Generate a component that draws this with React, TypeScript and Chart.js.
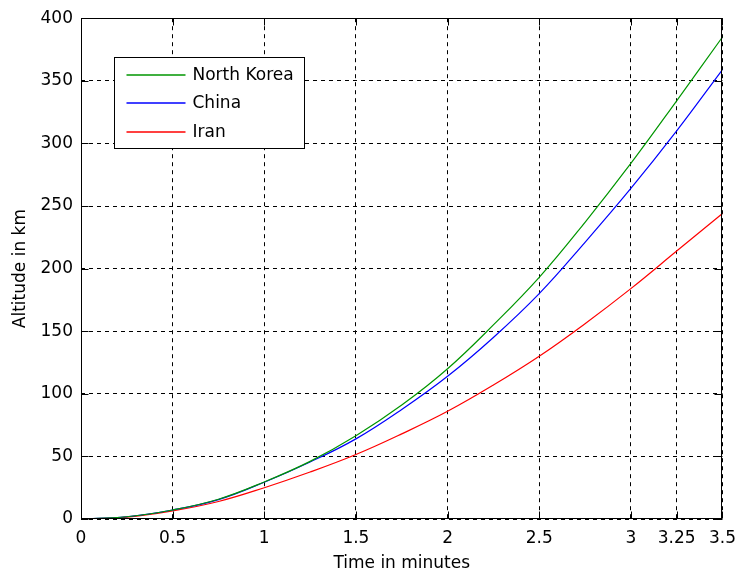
import React, { useEffect, useRef } from "react";
import { Chart, registerables } from "chart.js";

Chart.register(...registerables);

const timeMin = [0, 0.25, 0.5, 0.75, 1, 1.25, 1.5, 1.75, 2, 2.25, 2.5, 2.75, 3, 3.25, 3.5];
const northKorea = [0, 1.8, 7.2, 15.8, 29.6, 46, 66.5, 91, 120, 155, 193, 237, 284, 334, 385];
const china = [0, 1.8, 7.2, 15.5, 29.4, 45.5, 64, 87.5, 114, 145, 180, 221, 264, 310, 359];
const iran = [0, 1.5, 6.5, 14, 25, 37.5, 51.5, 68, 86, 107, 130, 156, 184, 214, 244];

const seriesNames = ["North Korea", "China", "Iran"];
const seriesColors = ["rgb(0,150,0)", "rgb(0,0,255)", "rgb(255,0,0)"];

const xTickValues = [0, 0.5, 1, 1.5, 2, 2.5, 3, 3.25, 3.5];
const yMin = 0;
const yMax = 400;
const yStep = 50;

const FONT = "'DejaVu Sans', sans-serif";

const framePlugin = {
  id: "matlabFrame",
  afterDraw(chart: any) {
    const { ctx, chartArea, scales } = chart;
    const { left, right, top, bottom } = chartArea;
    const xs = scales.x;
    const ys = scales.y;
    ctx.save();
    ctx.strokeStyle = "#000";
    ctx.lineWidth = 1;
    ctx.setLineDash([]);
    const L = Math.round(left) + 0.5;
    const R = Math.round(right) - 0.5;
    const T = Math.round(top) + 0.5;
    const B = Math.round(bottom) - 0.5;
    ctx.strokeRect(L, T, R - L, B - T);
    const tl = 7;
    ctx.beginPath();
    xs.ticks.forEach((t: any) => {
      const px = Math.round(xs.getPixelForValue(t.value)) + 0.5;
      ctx.moveTo(px, B);
      ctx.lineTo(px, B - tl);
      ctx.moveTo(px, T);
      ctx.lineTo(px, T + tl);
    });
    ys.ticks.forEach((t: any) => {
      const py = Math.round(ys.getPixelForValue(t.value)) + 0.5;
      ctx.moveTo(L, py);
      ctx.lineTo(L + tl, py);
      ctx.moveTo(R, py);
      ctx.lineTo(R - tl, py);
    });
    ctx.stroke();

    // legend box
    const bx = Math.round(left) + 33 + 0.5;
    const by = Math.round(top) + 39 + 0.5;
    const bw = 190;
    const bh = 91;
    ctx.fillStyle = "#fff";
    ctx.fillRect(bx, by, bw, bh);
    ctx.strokeStyle = "#000";
    ctx.lineWidth = 1;
    ctx.strokeRect(bx, by, bw, bh);
    ctx.font = `17px ${FONT}`;
    ctx.textAlign = "left";
    ctx.textBaseline = "middle";
    chart.data.datasets.forEach((ds: any, i: number) => {
      const ry = Math.round(by + 17 + i * 28.5);
      ctx.strokeStyle = ds.borderColor;
      ctx.lineWidth = 1.4;
      ctx.beginPath();
      ctx.moveTo(bx + 12, ry);
      ctx.lineTo(bx + 71, ry);
      ctx.stroke();
      ctx.fillStyle = "#000";
      ctx.fillText(ds.label, bx + 78, ry + 1);
    });
    ctx.restore();
  },
};

const bgPlugin = {
  id: "whiteBg",
  beforeDraw(chart: any) {
    const { ctx, width, height } = chart;
    ctx.save();
    ctx.fillStyle = "#fff";
    ctx.fillRect(0, 0, width, height);
    ctx.restore();
  },
};

export default function App() {
  const ref = useRef<HTMLCanvasElement | null>(null);
  useEffect(() => {
    if (!ref.current) return;
    const allSeries = [northKorea, china, iran];
    const chart = new Chart(ref.current, {
      type: "line",
      data: {
        datasets: allSeries.map((vals, i) => ({
          label: seriesNames[i],
          data: timeMin.map((t, j) => ({ x: t, y: vals[j] })),
          borderColor: seriesColors[i],
          backgroundColor: seriesColors[i],
          borderWidth: 1.2,
          pointRadius: 0,
          tension: 0.4,
          fill: false,
        })),
      },
      options: {
        responsive: false,
        animation: false,
        layout: { padding: { left: 0, top: 14, right: 13, bottom: 0 } },
        plugins: {
          legend: { display: false },
          tooltip: { enabled: false },
        },
        scales: {
          x: {
            type: "linear",
            min: 0,
            max: 3.5,
            afterBuildTicks: (scale: any) => {
              scale.ticks = xTickValues.map((v) => ({ value: v }));
            },
            afterFit: (scale: any) => {
              scale.height = 56;
            },
            ticks: {
              autoSkip: false,
              maxRotation: 0,
              padding: 9,
              color: "#000",
              font: { family: FONT, size: 17 },
              callback: (v: any) => String(v),
            },
            grid: {
              color: "#000",
              lineWidth: 1,
              drawTicks: false,
            },
            border: { display: false, dash: [4, 4] },
            title: {
              display: true,
              text: "Time in minutes",
              color: "#000",
              font: { family: FONT, size: 17 },
              padding: { top: 0, bottom: 1 },
            },
          },
          y: {
            type: "linear",
            min: yMin,
            max: yMax,
            afterFit: (scale: any) => {
              scale.width = 81;
            },
            ticks: {
              stepSize: yStep,
              padding: 8,
              color: "#000",
              font: { family: FONT, size: 17 },
            },
            grid: {
              color: "#000",
              lineWidth: 1,
              drawTicks: false,
            },
            border: { display: false, dash: [4, 4] },
            title: {
              display: true,
              text: "Altitude in km",
              color: "#000",
              font: { family: FONT, size: 17 },
              padding: { top: 10, bottom: 0 },
            },
          },
        },
      } as any,
      plugins: [bgPlugin, framePlugin],
    });
    return () => chart.destroy();
  }, []);
  return (
    <div style={{ position: "fixed", left: 0, top: 0, width: 745, height: 575, background: "#fff" }}>
      <canvas ref={ref} width={745} height={575} style={{ width: 745, height: 575, display: "block" }} />
    </div>
  );
}
